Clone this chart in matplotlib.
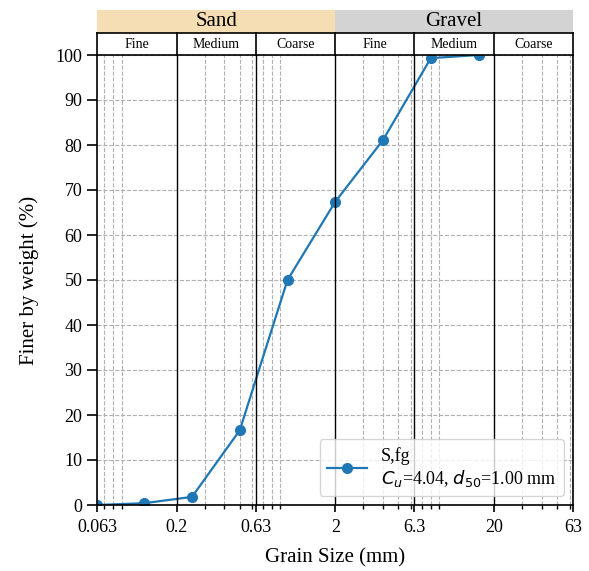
import matplotlib
matplotlib.use("Agg")
import matplotlib.pyplot as plt
from matplotlib.ticker import FixedLocator, LogLocator, NullFormatter

plt.rcParams['font.family'] = 'serif'
plt.rcParams['font.serif'] = ['Liberation Serif', 'DejaVu Serif']

# sieve data
grain_size = [0.063, 0.125, 0.25, 0.5, 1.0, 2.0, 4.0, 8.0, 16.0]
finer = [0.0, 0.4, 1.8, 16.6, 50.0, 67.4, 81.1, 99.3, 100.0]
legend_label = "S,fg\n$C_u$=4.04, $d_{50}$=1.00 mm"

# soil class boundaries
bounds = [0.063, 0.2, 0.63, 2, 6.3, 20, 63]
bound_labels = ['0.063', '0.2', '0.63', '2', '6.3', '20', '63']
sub_names = ['Fine', 'Medium', 'Coarse', 'Fine', 'Medium', 'Coarse']
main_names = ['Sand', 'Gravel']
main_colors = ['#f5deb3', '#d3d3d3']

W, H = 589, 571
fig = plt.figure(figsize=(W / 100, H / 100), dpi=100)
ax = fig.add_axes([97 / W, (H - 505) / H, 476 / W, 450 / H])

ax.plot(grain_size, finer, '-o', color='tab:blue', ms=7, lw=1.6,
        label=legend_label)
ax.set_xscale('log')
ax.set_xlim(bounds[0], bounds[-1])
ax.set_ylim(0, 100)
ax.xaxis.set_major_locator(FixedLocator(bounds))
ax.set_xticklabels(bound_labels)
ax.xaxis.set_minor_locator(LogLocator(base=10, subs=range(2, 10)))
ax.xaxis.set_minor_formatter(NullFormatter())
ax.set_yticks(range(0, 101, 10))
ax.tick_params(axis='both', labelsize=13, width=1.2)
ax.tick_params(axis='x', which='major', length=5, pad=5)
ax.tick_params(axis='y', which='major', length=7)
ax.tick_params(axis='x', which='minor', length=3, width=1)

ax.grid(True, which='minor', axis='x', ls='--', color='#b0b0b0', lw=0.8)
ax.grid(True, which='major', axis='y', ls='--', color='#b0b0b0', lw=0.8)
for b in bounds[1:-1]:
    ax.axvline(b, color='black', lw=1.0)
for s in ax.spines.values():
    s.set_linewidth(1.2)

ax.set_xlabel('Grain Size (mm)', fontsize=15, labelpad=9)
ax.set_ylabel('Finer by weight (%)', fontsize=15, labelpad=12)
ax.legend(loc='lower right', fontsize=13, handlelength=2.2)

# header bands
hx = fig.add_axes([97 / W, (H - 55) / H, 476 / W, 45 / H], sharex=ax)
hx.set_ylim(0, 45)
hx.axis('off')
hx.axvspan(bounds[0], bounds[3], ymin=22 / 45, ymax=1, color=main_colors[0], lw=0)
hx.axvspan(bounds[3], bounds[6], ymin=22 / 45, ymax=1, color=main_colors[1], lw=0)
hx.text((bounds[0] * bounds[3]) ** 0.5, 33.5, main_names[0], ha='center', va='center', fontsize=15)
hx.text((bounds[3] * bounds[6]) ** 0.5, 33.5, main_names[1], ha='center', va='center', fontsize=15)
hx.plot([bounds[0], bounds[-1]], [22, 22], color='black', lw=1.2, clip_on=False)
for b in bounds:
    hx.plot([b, b], [0, 22], color='black', lw=1.2, clip_on=False)
for i, name in enumerate(sub_names):
    hx.text((bounds[i] * bounds[i + 1]) ** 0.5, 11, name, ha='center', va='center', fontsize=10)

fig.savefig('out.png', dpi=100)
